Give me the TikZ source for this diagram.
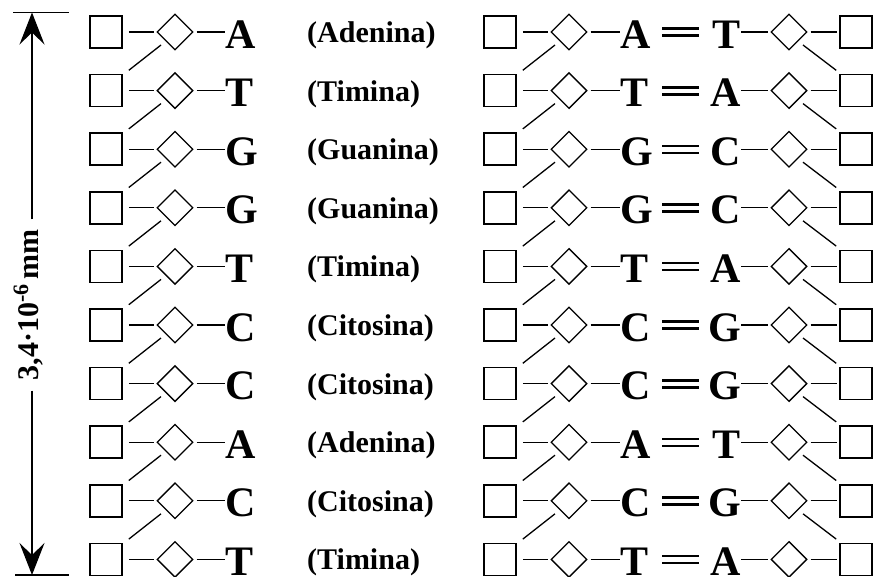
\documentclass[tikz,border=0pt]{standalone}
\usepackage{fontspec}
\setmainfont{Liberation Serif}
\usetikzlibrary{shapes.geometric,arrows.meta,calc}
\tikzset{stip/.tip={Stealth[length=32pt,width=25pt,inset=12pt]}}

\begin{document}
\begin{tikzpicture}[x=1pt,y=-1pt,
  sq/.style={draw,line width=1.6pt,minimum size=32pt,inner sep=0pt},
  dia/.style={draw,diamond,line width=1.3pt,minimum size=36pt,inner sep=0pt},
  bond/.style={line width=1.3pt},
  dbl/.style={line width=2.6pt},
  big/.style={inner sep=0pt,font=\fontsize{42}{42}\selectfont\bfseries},
  lab/.style={inner sep=0pt,font=\fontsize{30}{30}\selectfont\bfseries,anchor=base west},
]
\fill[white] (0,0) rectangle (874,576);
\useasboundingbox (0,0) rectangle (874,576);

% one nucleotide row per entry: number / base / name / pair (left, right)
\foreach \i/\b/\n/\p/\q in {1/A/Adenina/A/T, 2/T/Timina/T/A, 3/G/Guanina/G/C,
    4/G/Guanina/G/C, 5/T/Timina/T/A, 6/C/Citosina/C/G, 7/C/Citosina/C/G,
    8/A/Adenina/A/T, 9/C/Citosina/C/G, 10/T/Timina/T/A}{
  \pgfmathsetmacro\c{32+58.6*(\i-1)}
  % single strand
  \node[sq]  (sl\i) at (106,\c) {};
  \node[dia] (dl\i) at (175,\c) {};
  \node[big,anchor=base west] (bl\i) at (225,\c+16) {\b};
  \node[lab] (n\i) at (307,\c+10.5) {(\n)};
  \draw[bond,shorten <=6pt,shorten >=2.5pt] (sl\i) -- (dl\i);
  \draw[bond,shorten <=3pt] (dl\i) -- (bl\i.west |- dl\i);
  % double strand
  \node[sq]  (sa\i) at (500,\c) {};
  \node[dia] (da\i) at (569,\c) {};
  \node[big,anchor=base west] (p\i) at (620,\c+16) {\p};
  \node[big,anchor=base east] (q\i) at (741,\c+16) {\q};
  \node[dia] (db\i) at (789,\c) {};
  \node[sq]  (sb\i) at (856,\c) {};
  \draw[bond,shorten <=6pt,shorten >=2.5pt] (sa\i) -- (da\i);
  \draw[bond,shorten <=3pt] (da\i) -- (p\i.west |- da\i);
  \draw[dbl] (662,\c-3.3) -- (699,\c-3.3) (662,\c+3.7) -- (699,\c+3.7);
  \draw[bond,shorten >=2pt] (q\i.east |- db\i) -- (db\i);
  \draw[bond,shorten <=3pt,shorten >=2pt] (db\i) -- (sb\i);
}

% backbone links between consecutive rows
\foreach \i [evaluate=\i as \j using int(\i+1)] in {1,...,9}{
  \draw[bond] ($(dl\i)+(-14,13)$) -- ($(sl\j.north east)+(6,-3.5)$);
  \draw[bond] ($(da\i)+(-14,13)$) -- ($(sa\j.north east)+(6,-3.5)$);
  \draw[bond] ($(db\i)+(14,13)$) -- ($(sb\j.north west)+(-3,-3.5)$);
}

% length of the strand
\coordinate (top) at (32,12.5);
\coordinate (bot) at (32,575);
\draw[line width=1.2pt] (13,12.5) -- (69,12.5);
\draw[line width=1.2pt] (15,575) -- (69,575);
\node[rotate=90,anchor=base,inner sep=0pt,font=\fontsize{30}{30}\selectfont\bfseries]
  (len) at (38,305) {3,4·10\raisebox{10pt}{\fontsize{22}{22}\selectfont -6}\,mm};
\draw[line width=1.2pt,-{stip},shorten <=10pt] (top |- len.east) -- (top);
\draw[line width=1.2pt,-{stip},shorten <=10pt] (top |- len.west) -- (bot);
\end{tikzpicture}
\end{document}
